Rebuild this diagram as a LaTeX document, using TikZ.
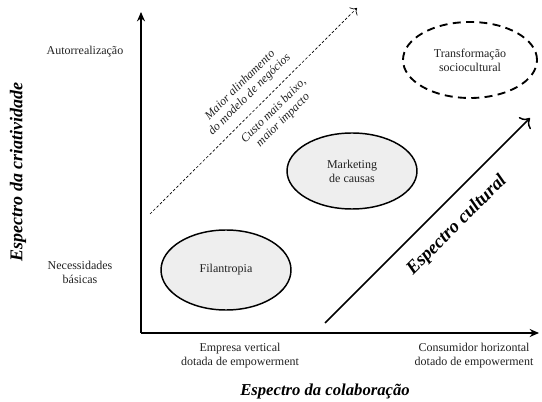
\documentclass[tikz,border=0pt]{standalone}
\usepackage{fontspec}
\setmainfont{Liberation Serif}
\usetikzlibrary{arrows.meta, positioning, shapes.geometric}
\definecolor{cxfill}{HTML}{EEEEEE}
\definecolor{cxtext}{HTML}{222222}

\begin{document}
\begin{tikzpicture}[x=0.75pt, y=-0.75pt,
  every node/.style={font=\fontsize{9}{10.5}\selectfont, text=cxtext},
  field/.style={ellipse, draw, line width=1.1pt, align=center, inner sep=0pt},
  axistitle/.style={font=\fontsize{12.5}{14}\selectfont\bfseries\itshape, text=black},
  tick/.style={align=center},
  note/.style={font=\fontsize{9}{10}\selectfont\itshape, align=center, sloped},
]
\useasboundingbox (0,0) rectangle (542,402);

% Axes
\coordinate (o) at (141,333);
\coordinate (ytop) at (141,12);
\coordinate (xend) at (539,333);
\draw[-{Stealth[length=7pt, width=6pt]}, line width=1.3pt] (o) -- (ytop);
\draw[-{Stealth[length=7pt, width=6pt]}, line width=1.3pt] (o) -- (xend);

% Axis titles and ticks
\node[axistitle, font=\fontsize{13.5}{15}\selectfont\bfseries\itshape, rotate=90] (ytitle) at (18,172) {Espectro da criatividade};
\node[axistitle] (xtitle) at (325,391) {Espectro da colaboração};
\node[tick] (self) at (85,52) {Autorrealização};
\node[tick] (basic) at (80,272) {Necessidades\\básicas};
\node[tick] (firm) at (240,356) {Empresa vertical\\dotada de empowerment};
\node[tick] (consumer) at (474,356) {Consumidor horizontal\\dotado de empowerment};

% Fields
\node[field, fill=cxfill, minimum width=97.5pt, minimum height=60pt] (phil) at (226,270) {Filantropia};
\node[field, fill=cxfill, minimum width=97.5pt, minimum height=57pt] (mkt) at (352,171) {Marketing\\de causas};
\node[field, dash pattern=on 6pt off 4pt, line width=1.4pt, minimum width=100.5pt, minimum height=57pt] (trans) at (470,60) {Transformação\\sociocultural};

% Dashed gradient
\coordinate (d0) at (150,214);
\coordinate (d1) at (357,8);
\draw[-{To[length=4pt]}, dash pattern=on 2pt off 1.5pt, line width=0.5pt] (d0) -- (d1)
  node[note, pos=0.53, above=3pt] (align) {Maior alinhamento\\do modelo de negócios}
  node[note, pos=0.55, below=3pt] (cost) {Custo mais baixo,\\maior impacto};

% Cultural spectrum
\coordinate (c0) at (325,323);
\coordinate (c1) at (530,118);
\draw[-{To[length=6pt]}, line width=1.1pt] (c0) -- (c1)
  node[axistitle, font=\fontsize{14}{16}\selectfont\bfseries\itshape, sloped, pos=0.56, below=8pt] (cult) {Espectro cultural};

\end{tikzpicture}
\end{document}
